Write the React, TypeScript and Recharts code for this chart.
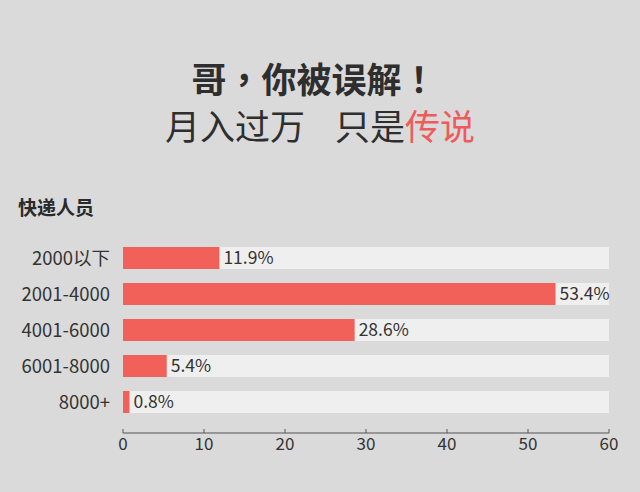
import { Bar, BarChart, XAxis, YAxis, LabelList } from "recharts"

const categories = ["2000以下", "2001-4000", "4001-6000", "6001-8000", "8000+"]
const shares = [11.9, 53.4, 28.6, 5.4, 0.8]
const xTicks = [0, 10, 20, 30, 40, 50, 60]

const data = categories.map((name, i) => ({ name, value: shares[i] }))

const font = "'Noto Sans CJK SC', 'Noto Sans', sans-serif"
const punct = "，！"

// fixed-width cells; punctuation drawn centred like the original
function Chars({ text, color }: { text: string; color?: string }) {
    return (
        <>
            {Array.from(text).map((c, i) => (
                <span
                    key={i}
                    style={{
                        display: "inline-block",
                        width: "1em",
                        textAlign: "center",
                        color,
                        fontFamily: punct.includes(c) ? "'Noto Sans CJK TC', sans-serif" : undefined,
                    }}
                >
                    {c}
                </span>
            ))}
        </>
    )
}

export default function App() {
    return (
        <div
            style={{
                position: "absolute",
                left: 0,
                top: 0,
                width: 640,
                height: 492,
                background: "#dadada",
                fontFamily: font,
                overflow: "hidden",
            }}
        >
            <div
                style={{
                    position: "absolute",
                    top: 56,
                    left: -6,
                    width: 640,
                    textAlign: "center",
                    fontSize: 35,
                    fontWeight: 700,
                    color: "#2e2e2e",
                    lineHeight: "44px",
                    whiteSpace: "nowrap",
                }}
            >
                <Chars text="哥，你被误解！" />
            </div>
            <div
                style={{
                    position: "absolute",
                    top: 103,
                    left: 0,
                    width: 640,
                    textAlign: "center",
                    fontSize: 35,
                    fontWeight: 400,
                    color: "#2e2e2e",
                    lineHeight: "44px",
                    whiteSpace: "nowrap",
                }}
            >
                <Chars text="月入过万" />
                <span style={{ display: "inline-block", width: 30 }} />
                <Chars text="只是" />
                <Chars text="传说" color="#ee5b5b" />
            </div>
            <div
                style={{
                    position: "absolute",
                    top: 195,
                    left: 18,
                    fontSize: 19,
                    fontWeight: 700,
                    color: "#2a2a2a",
                    lineHeight: "24px",
                }}
            >
                快递人员
            </div>
            <BarChart
                width={640}
                height={492}
                data={data}
                layout="vertical"
                margin={{ top: 240, right: 31, left: 0, bottom: 0 }}
                style={{ position: "absolute", left: 0, top: 0 }}
            >
                <XAxis
                    type="number"
                    domain={[0, 60]}
                    ticks={xTicks}
                    height={59}
                    stroke="#555"
                    tickSize={-4}
                    tickMargin={9}
                    tick={{ fill: "#333", fontSize: 17, fontFamily: font }}
                />
                <YAxis
                    type="category"
                    dataKey="name"
                    width={123}
                    axisLine={false}
                    tickLine={false}
                    tickMargin={7}
                    padding={{ top: 0, bottom: 13 }}
                    tick={{ fill: "#333", fontSize: 18.5, fontFamily: font }}
                />
                <Bar
                    dataKey="value"
                    fill="#f2605a"
                    barSize={22}
                    background={{ fill: "#f0efef" }}
                    isAnimationActive={false}
                >
                    <LabelList
                        dataKey="value"
                        position="right"
                        offset={4}
                        formatter={(v: number) => `${v}%`}
                        style={{ fill: "#333", fontSize: 17.5, fontFamily: font }}
                    />
                </Bar>
            </BarChart>
        </div>
    )
}
